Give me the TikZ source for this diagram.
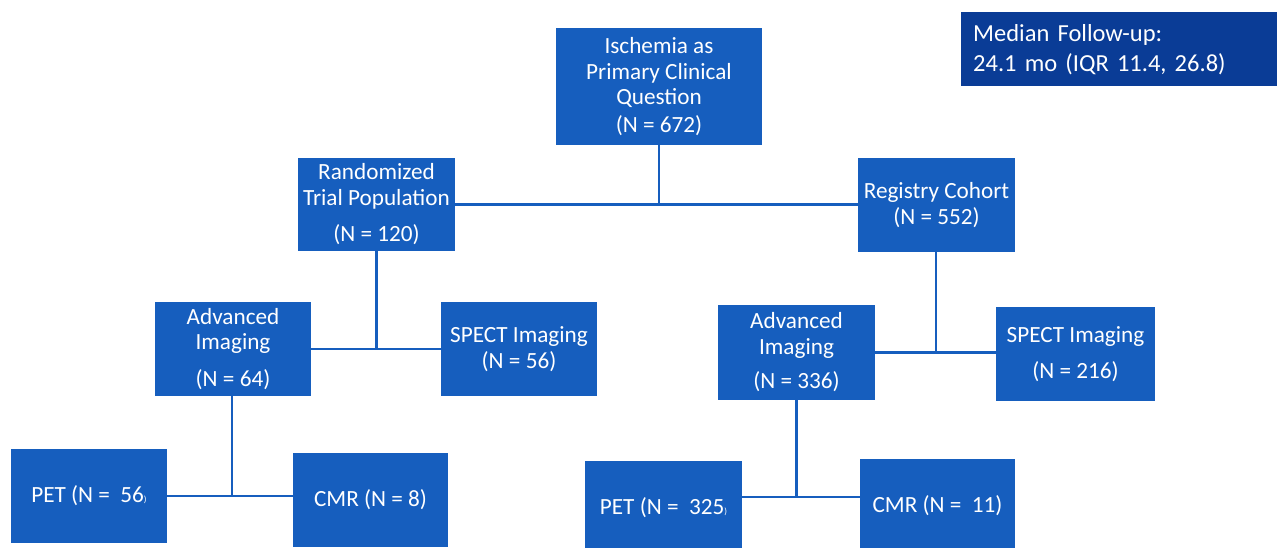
\documentclass[tikz,border=0pt]{standalone}
\usepackage{fontspec}
\setmainfont{Carlito}
\definecolor{boxblue}{RGB}{22,94,190}
\definecolor{navy}{RGB}{10,60,150}
\begin{document}
\begin{tikzpicture}[x=1pt,y=1pt,
  box/.style={fill=boxblue,draw=none,text=white,align=center,inner sep=0pt,
    font=\fontsize{23.2}{25.5}\selectfont},
  link/.style={draw=boxblue,line width=2.8pt}]
\useasboundingbox (0,0) rectangle (1277,547);
\fill[white] (0,0) rectangle (1277,547);
\begin{scope}
\clip (0,0) rectangle (1277,547);
\node[box,minimum width=206,minimum height=117] (isch) at (659,460.5)
  {Ischemia as\\Primary Clinical\\Question\\[2pt](N = 672)};
\node[fill=navy,text=white,align=left,inner sep=0pt,anchor=north west,
  minimum width=330,minimum height=74,text width=306,
  font=\fontsize{24.5}{30}\selectfont] (med) at (961,535)
  {Median Follow-up:\\24.1 mo (IQR 11.4, 26.8)};
\node[box,minimum width=157,minimum height=93] (rand) at (376.5,342.5)
  {Randomized\\Trial Population\\[11pt](N = 120)};
\node[box,minimum width=157,minimum height=94] (reg) at (936.5,342)
  {Registry Cohort\\(N = 552)};
\node[box,minimum width=156,minimum height=94] (advL) at (233,198)
  {Advanced\\Imaging\\[11pt](N = 64)};
\node[box,minimum width=156,minimum height=94] (spectL) at (519,198)
  {SPECT Imaging\\(N = 56)};
\node[box,minimum width=157,minimum height=95] (advR) at (796.5,194.5)
  {Advanced\\Imaging\\[9pt](N = 336)};
\node[box,minimum width=159,minimum height=94] (spectR) at (1075.5,193)
  {SPECT Imaging\\[11pt](N = 216)};
\node[box,minimum width=156,minimum height=94] (petL) at (89,51)
  {PET (N = \ 56{\small )}};
\node[box,minimum width=155,minimum height=94] (cmrL) at (370.5,47)
  {CMR (N = 8)};
\node[box,minimum width=157,minimum height=94] (petR) at (663.5,39)
  {PET (N = \ 325{\small )}};
\node[box,minimum width=155,minimum height=94] (cmrR) at (937.5,41)
  {CMR (N = \ 11)};
\end{scope}
% connectors
\draw[link] (isch.south) -- (isch.south |- rand.east);
\draw[link] (rand.east) -- (rand.east -| reg.west);
\draw[link] (rand.south) -- (rand.south |- advL.east);
\draw[link] (advL.east) -- (spectL.west);
\draw[link] ([xshift=-0.5pt]reg.south) -- ([xshift=-0.5pt]reg.south |- advR.east);
\draw[link] (advR.east) -- (advR.east -| spectR.west);
\draw[link] ([xshift=-1pt]advL.south) -- ([xshift=-1pt,yshift=-1pt]advL.south |- petL.east);
\draw[link] (petL.east) -- (petL.east -| cmrL.west);
\draw[link] (advR.south) -- (advR.south |- 0,50);
\draw[link] (petR.east |- 0,50) -- (cmrR.west |- 0,50);
\end{tikzpicture}
\end{document}
